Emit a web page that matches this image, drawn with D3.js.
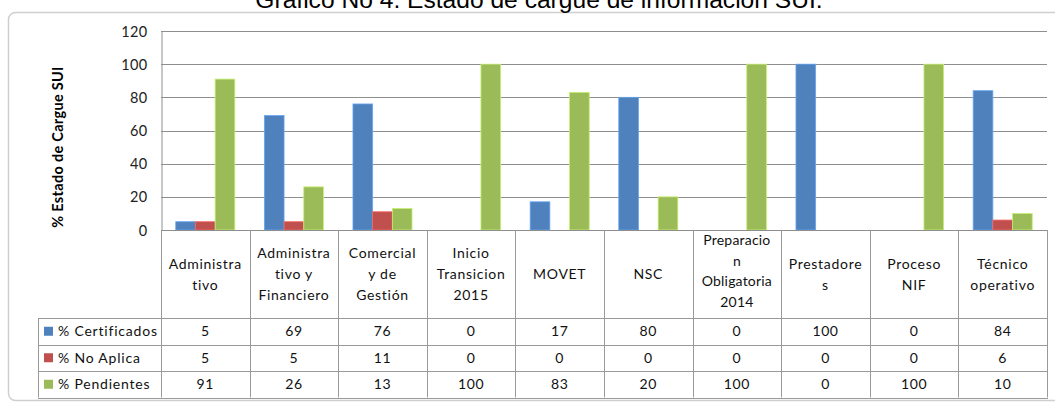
<!DOCTYPE html>
<html>
<head>
<meta charset="utf-8">
<script src="https://cdn.jsdelivr.net/npm/d3@7"></script>
<style>
  html, body { margin: 0; padding: 0; background: #fff; }
  svg { display: block; }
</style>
</head>
<body>
<svg id="chart" width="1055" height="403"></svg>
<script>
const categories = ["Administra\ntivo", "Administra\ntivo y\nFinanciero", "Comercial\ny de\nGestión", "Inicio\nTransicion\n2015", "MOVET", "NSC", "Preparacio\nn\nObligatoria\n2014", "Prestadore\ns", "Proceso\nNIF", "Técnico\noperativo"];
const seriesNames = ["% Certificados", "% No Aplica", "% Pendientes"];
const certificados = [5, 69, 76, 0, 17, 80, 0, 100, 0, 84];
const noAplica = [5, 5, 11, 0, 0, 0, 0, 0, 0, 6];
const pendientes = [91, 26, 13, 100, 83, 20, 100, 0, 100, 10];
const yTicks = [0, 20, 40, 60, 80, 100, 120];
const titleText = "Grafico No 4. Estado de cargue de información SUI.";
const yAxisTitle = "% Estado de Cargue SUI";

const seriesValues = [certificados, noAplica, pendientes];
const colors = ["#4F81BD", "#C0504D", "#9BBB59"];

const svg = d3.select("#chart");
const plot = { left: 161, right: 1047, top: 31, bottom: 230 };
const tableLeft = 38;
const headerBottom = 318;
const rowH = 26.5;

const x = d3.scaleBand().domain(categories).range([plot.left, plot.right]).paddingInner(0).paddingOuter(0);
const bw = x.bandwidth();
const x1 = d3.scaleBand().domain(seriesNames).range([bw * 0.75 / 4.5, bw - bw * 0.75 / 4.5]).padding(0);
const y = d3.scaleLinear().domain([0, 120]).range([plot.bottom, plot.top]);

// outer frame
svg.append("rect")
  .attr("x", 8.5).attr("y", 12.5).attr("width", 1070).attr("height", 388)
  .attr("rx", 7).attr("fill", "none").attr("stroke", "#cfcfcf").attr("stroke-width", 1.5);

// title
svg.append("text")
  .attr("x", 539).attr("y", 7.5)
  .attr("text-anchor", "middle")
  .style("font-family", "'Liberation Sans', Arial, sans-serif")
  .style("font-size", "24.6px")
  .attr("fill", "#000")
  .text(titleText);

// gridlines
svg.append("g").selectAll("line").data(yTicks.filter(d => d > 0)).join("line")
  .attr("x1", plot.left).attr("x2", plot.right)
  .attr("y1", d => Math.round(y(d)) + 0.5).attr("y2", d => Math.round(y(d)) + 0.5)
  .attr("stroke", "#8e8e8e").attr("stroke-width", 1);

// y axis
const yAxis = d3.axisLeft(y).tickValues(yTicks).tickSize(0).tickPadding(14);
const gy = svg.append("g").attr("transform", `translate(${plot.left + 0.5},0.5)`).call(yAxis);
gy.select(".domain").attr("stroke", "#8e8e8e");
gy.selectAll("text")
  .style("font-family", "Lato, 'Open Sans', sans-serif")
  .style("font-size", "14.5px")
  .style("letter-spacing", "0.3px")
  .attr("fill", "#222");

// y axis title
svg.append("text")
  .attr("transform", "translate(63,147) rotate(-90)")
  .attr("text-anchor", "middle")
  .style("font-family", "Lato, 'Open Sans', sans-serif")
  .style("font-size", "14.5px")
  .style("font-weight", "bold")
  .style("letter-spacing", "0.3px")
  .attr("fill", "#000")
  .text(yAxisTitle);

// bars
const groups = svg.append("g").selectAll("g").data(categories).join("g")
  .attr("transform", d => `translate(${x(d)},0)`);
groups.selectAll("rect")
  .data((c, i) => seriesNames.map((s, k) => ({ s, k, v: seriesValues[k][i] })))
  .join("rect")
  .filter(d => d.v > 0)
  .attr("x", d => x1(d.s))
  .attr("y", d => y(d.v))
  .attr("width", x1.bandwidth())
  .attr("height", d => y(0) - y(d.v))
  .attr("fill", d => colors[d.k])
  .attr("stroke", d => d3.color(colors[d.k]).brighter(0.7))
  .attr("stroke-width", 0.8);

// x axis line
svg.append("line")
  .attr("x1", plot.left).attr("x2", plot.right)
  .attr("y1", plot.bottom + 0.5).attr("y2", plot.bottom + 0.5)
  .attr("stroke", "#8e8e8e");

// data table
const tableStroke = "#9a9a9a";
const tg = svg.append("g");
const bounds = categories.map(c => x(c)).concat([plot.right]);
tg.selectAll("line.v").data(bounds).join("line")
  .attr("x1", d => Math.round(d) + 0.5).attr("x2", d => Math.round(d) + 0.5)
  .attr("y1", plot.bottom).attr("y2", headerBottom + rowH * 3)
  .attr("stroke", tableStroke);
tg.append("line")
  .attr("x1", tableLeft + 0.5).attr("x2", tableLeft + 0.5)
  .attr("y1", headerBottom).attr("y2", headerBottom + rowH * 3)
  .attr("stroke", tableStroke);
tg.selectAll("line.h").data(d3.range(4)).join("line")
  .attr("x1", tableLeft).attr("x2", plot.right + 1)
  .attr("y1", d => Math.round(headerBottom + d * rowH) + 0.5)
  .attr("y2", d => Math.round(headerBottom + d * rowH) + 0.5)
  .attr("stroke", tableStroke);

const tableFont = "Lato, 'Open Sans', sans-serif";
// header labels
categories.forEach(c => {
  const lines = c.split("\n");
  const lh = lines.length > 3 ? 20.5 : 21;
  const cy = (plot.bottom + headerBottom) / 2 - (lines.length > 3 ? 3 : 0);
  const t = tg.append("text")
    .attr("text-anchor", "middle")
    .style("font-family", tableFont).style("font-size", "14px")
    .style("letter-spacing", lines.length > 3 ? "0.2px" : "0.7px")
    .attr("fill", "#111");
  lines.forEach((ln, i) => {
    t.append("tspan")
      .attr("x", x(c) + bw / 2)
      .attr("y", cy + (i - (lines.length - 1) / 2) * lh + 5)
      .text(ln);
  });
});

// rows
seriesNames.forEach((s, k) => {
  const ry = headerBottom + k * rowH;
  tg.append("rect")
    .attr("x", 44).attr("y", ry + rowH / 2 - 4.5)
    .attr("width", 9).attr("height", 9)
    .attr("fill", colors[k]);
  tg.append("text")
    .attr("x", 58).attr("y", ry + rowH / 2 + 5)
    .style("font-family", tableFont).style("font-size", "14px")
    .style("letter-spacing", "0.8px")
    .attr("fill", "#111")
    .text(s);
  categories.forEach((c, i) => {
    tg.append("text")
      .attr("x", x(c) + bw / 2).attr("y", ry + rowH / 2 + 5)
      .attr("text-anchor", "middle")
      .style("font-family", tableFont).style("font-size", "14px")
      .style("letter-spacing", "0.6px")
      .attr("fill", "#111")
      .text(seriesValues[k][i]);
  });
});
</script>
</body>
</html>
